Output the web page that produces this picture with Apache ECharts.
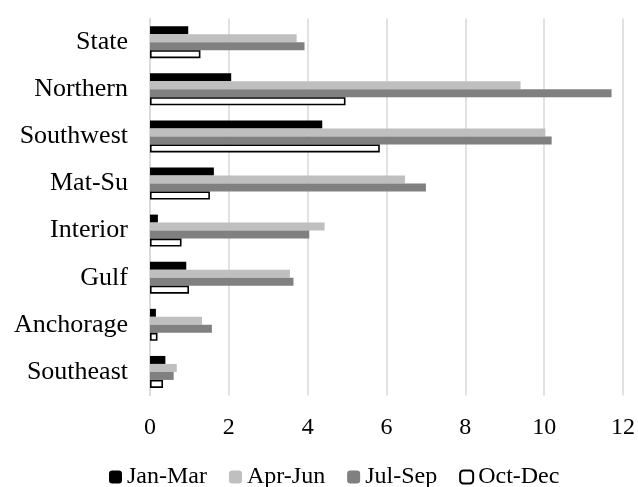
<!DOCTYPE html>
<html>
<head>
<meta charset="utf-8">
<script src="https://cdn.jsdelivr.net/npm/echarts@6/dist/echarts.min.js"></script>
<style>
  html, body { margin: 0; padding: 0; background: #fff; }
  #regionChart { width: 638px; height: 487px; }
</style>
</head>
<body>
<div id="regionChart"></div>
<script>
// regions, top to bottom
var regions = ['State', 'Northern', 'Southwest', 'Mat-Su', 'Interior', 'Gulf', 'Anchorage', 'Southeast'];
var quarters = ['Jan-Mar', 'Apr-Jun', 'Jul-Sep', 'Oct-Dec'];

var janMar = [0.97, 2.06, 4.37, 1.62, 0.2, 0.92, 0.15, 0.39];
var aprJun = [3.72, 9.40, 10.03, 6.47, 4.43, 3.55, 1.32, 0.68];
var julSep = [3.92, 11.71, 10.19, 7.00, 4.04, 3.64, 1.57, 0.60];
var octDec = [1.28, 4.96, 5.83, 1.52, 0.80, 0.99, 0.19, 0.33];

var xTicks = [0, 2, 4, 6, 8, 10, 12];

var myChart = echarts.init(document.getElementById('regionChart'));

var serif = 'Liberation Serif';

function barSeries(name, data, fill, border) {
  return {
    name: name,
    type: 'bar',
    data: data,
    barWidth: 8,
    barGap: '0%',
    itemStyle: {
      color: fill,
      borderColor: border,
      borderWidth: border ? 1.6 : 0
    }
  };
}

var option = {
  animation: false,
  textStyle: { fontFamily: serif, color: '#000' },
  grid: {
    left: 150,
    right: 15,
    top: 18.6,
    bottom: 91.5
  },
  legend: {
    data: quarters,
    left: 104,
    top: 460,
    itemWidth: 13,
    itemHeight: 13,
    itemGap: 22,
    textStyle: { fontFamily: serif, fontSize: 24, color: '#000' }
  },
  xAxis: {
    type: 'value',
    min: xTicks[0],
    max: xTicks[xTicks.length - 1],
    interval: 2,
    axisLine: { show: false },
    axisTick: { show: false },
    splitLine: { lineStyle: { color: '#d9d9d9', width: 1.5 } },
    axisLabel: {
      fontFamily: serif,
      fontSize: 24,
      color: '#000',
      margin: 20
    }
  },
  yAxis: {
    type: 'category',
    data: regions,
    inverse: true,
    axisTick: { show: false },
    axisLine: { lineStyle: { color: '#d9d9d9', width: 1.5 } },
    axisLabel: {
      fontFamily: serif,
      fontSize: 26,
      color: '#000',
      margin: 22
    }
  },
  series: [
    barSeries(quarters[0], janMar, '#000000'),
    barSeries(quarters[1], aprJun, '#bfbfbf'),
    barSeries(quarters[2], julSep, '#808080'),
    barSeries(quarters[3], octDec, '#ffffff', '#000000')
  ]
};

myChart.setOption(option);
</script>
</body>
</html>
